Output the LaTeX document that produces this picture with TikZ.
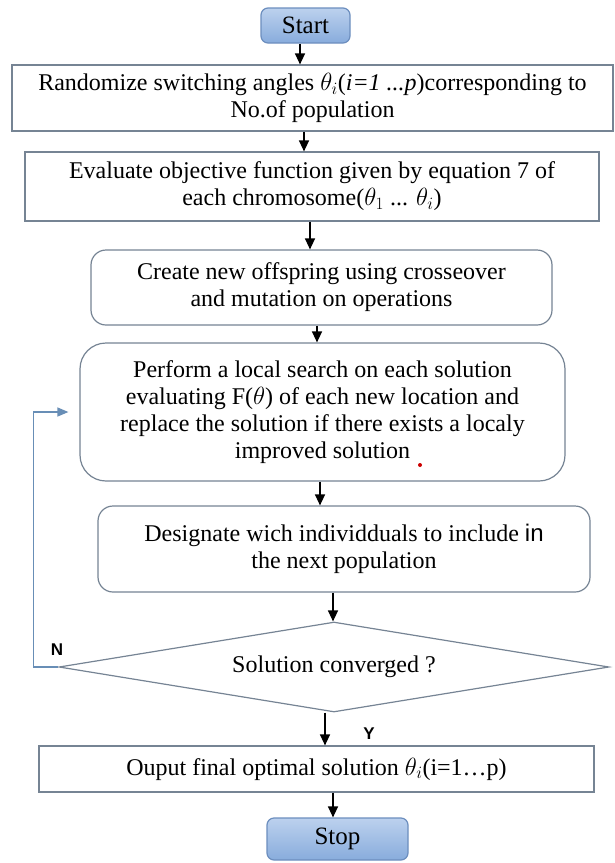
\documentclass[tikz,border=0pt]{standalone}
\usepackage{fontspec}
\setmainfont{Liberation Serif}
\newfontfamily\labelfont{Liberation Sans}
\usetikzlibrary{shapes.geometric,arrows.meta}

\definecolor{boxline}{RGB}{118,132,148}
\definecolor{loopline}{RGB}{104,142,182}
\definecolor{termtop}{RGB}{188,209,238}
\definecolor{termbottom}{RGB}{136,172,220}
\definecolor{termline}{RGB}{108,142,190}

\begin{document}
\begin{tikzpicture}[x=1pt,y=-1pt]
    \tikzset{
        terminal/.style={
            draw=termline, line width=1.2pt, rounded corners=7pt,
            top color=termtop, bottom color=termbottom,
            inner sep=0pt, font=\fontsize{25}{28}\selectfont,
        },
        procbox/.style={
            draw=boxline, line width=1.2pt, fill=white, align=center,
            inner sep=0pt, font=\fontsize{24}{27}\selectfont,
        },
        roundbox/.style={procbox, rounded corners=#1},
        decision/.style={
            procbox, diamond, aspect=6.1,
            minimum width=550pt, minimum height=90pt,
        },
        flow/.style={-{Triangle[length=11pt,width=10pt]}, line width=1.4pt},
        loopflow/.style={
            -{Triangle[length=11pt,width=9pt]}, draw=loopline,
            line width=1.3pt, shorten >=11pt,
        },
        yesno/.style={font=\labelfont\bfseries\fontsize{17}{17}\selectfont},
    }
    \useasboundingbox (0,0) rectangle (615,863);

    % Blocks
    \node[terminal, minimum width=89pt, minimum height=35pt] (start) at (305.5,25.5) {Start};
    \node[procbox, minimum width=601pt, minimum height=66pt] (rand) at (312.5,98)
        {Randomize switching angles $\theta_i$(\textit{i=1 ...p})corresponding to\\No.of population};
    \node[procbox, minimum width=574pt, minimum height=69pt] (eval) at (312,186.5)
        {Evaluate objective function given by equation 7 of\\each chromosome($\theta_1$ ... $\theta_i$)};
    \node[roundbox=15pt, minimum width=461pt, minimum height=75pt] (offspring) at (321.5,287.5)
        {Create new offspring using crosseover\\and mutation on operations};
    \node[roundbox=26pt, minimum width=485pt, minimum height=138pt] (search) at (322.5,412)
        {Perform a local search on each solution\\evaluating F($\theta$) of each new location and\\replace the solution if there exists a localy\\improved solution};
    \node[roundbox=15pt, minimum width=492pt, minimum height=86pt] (select) at (344,549)
        {Designate wich individduals to include {\labelfont in}\\the next population};
    \node[decision] (conv) at (334,667) {Solution converged ?};
    \node[procbox, minimum width=555pt, minimum height=46pt] (output) at (316.5,769)
        {Ouput final optimal solution $\theta_i$(i=1\ldots p)};
    \node[terminal, minimum width=141pt, minimum height=42pt] (stop) at (337.5,839) {Stop};

    \fill[red!80!black] (420,465) circle (2);

    % Arrows
    \draw[flow] ([xshift=-5.5pt]start.south) -- ([xshift=-5.5pt]start.south |- rand.north);
    \draw[flow] ([xshift=-8.5pt]rand.south) -- ([xshift=-8.5pt]rand.south |- eval.north);
    \draw[flow] ([xshift=-2pt]eval.south) -- ([xshift=-2pt]eval.south |- offspring.north);
    \draw[flow] ([xshift=-4.5pt]offspring.south) -- ([xshift=-4.5pt]offspring.south |- search.north);
    \draw[flow] ([xshift=-2.5pt]search.south) -- ([xshift=-2.5pt]search.south |- select.north);
    \draw[flow] ([xshift=-11pt]select.south) -- ([xshift=-11pt]select.south |- conv.north);
    \draw[flow] ([xshift=-9pt]conv.south) -- ([xshift=-9pt]conv.south |- output.north);
    \draw[flow] ([xshift=16.5pt]output.south) -- ([xshift=16.5pt]output.south |- stop.north);

    % Back to the local search
    \draw[loopflow] (conv.west) -- ++(-25,0) |- (search.west);

    \node[yesno] (no) at (57,650) {N};
    \node[yesno] (yes) at (369,734) {Y};
\end{tikzpicture}
\end{document}
